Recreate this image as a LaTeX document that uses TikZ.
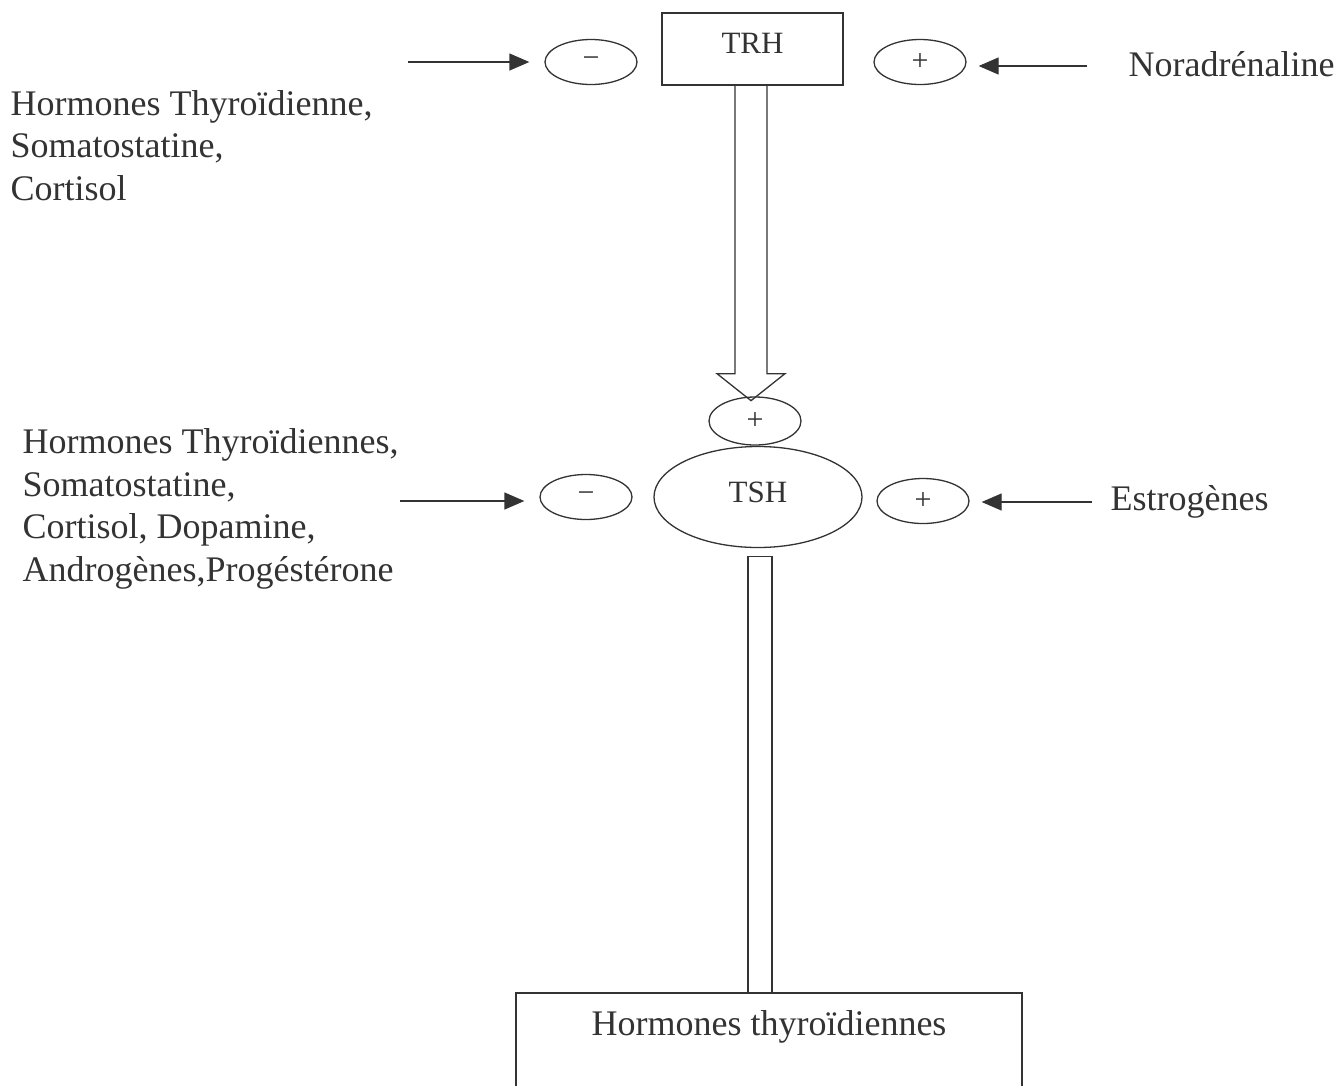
\documentclass[tikz,border=0pt]{standalone}
\usepackage{fontspec}
\setmainfont{Liberation Serif}
\usetikzlibrary{arrows.meta,calc,shapes.geometric}
\definecolor{ink}{HTML}{333333}
\begin{document}
\begin{tikzpicture}[x=1pt,y=-1pt, line width=1.3pt, color=ink,
 big/.style={font=\fontsize{36}{42.5}\selectfont, inner sep=0pt, align=left},
 sm/.style={font=\fontsize{31}{34}\selectfont},
 sign/.style={ellipse, draw, minimum width=92pt, minimum height=45pt, inner sep=0pt, font=\fontsize{30}{30}\selectfont},
 arr/.style={-{Triangle[length=20pt,width=17pt]}},
]
\useasboundingbox (0,0) rectangle (1341,1085);
\clip (0,0) rectangle (1341,1085);

% top level
\node[draw, rectangle, minimum width=181pt, minimum height=72pt, sm, text depth=12pt] (trh) at (752.5,49) {TRH};
\node[sign] (m1) at (591,62) {−};
\node[sign] (p1) at (920,62) {+};
\coordinate (l1) at (408,62);
\coordinate (r1) at (1087,66);
\draw[arr, shorten >=15pt] (l1) -- (m1.west);
\draw[arr, shorten >=12pt] (r1) -- (r1 -| p1.east);
\node[big, anchor=base west] (t1) at (10,200) {Hormones Thyroïdienne,\\Somatostatine,\\Cortisol};
\node[big, anchor=base west] (nor) at (1128,76) {Noradrénaline};

% middle level
\node[sign, minimum height=48pt] (p0) at (755,421) {+};
\node[ellipse, draw, minimum width=208pt, minimum height=101pt, inner sep=0pt, sm, text depth=10pt] (tsh) at (758,497) {TSH};
\node[sign] (m2) at (586,497) {−};
\node[sign] (p2) at (923,501) {+};
\coordinate (l2) at (400,501);
\coordinate (r2) at (1092,502);
\draw[arr, shorten >=15pt] (l2) -- (l2 -| m2.west);
\draw[arr, shorten >=12pt] (r2) -- (r2 -| p2.east);
\node[big, anchor=base west] (t2) at (22,581) {Hormones Thyroïdiennes,\\Somatostatine,\\Cortisol, Dopamine,\\Androgènes,Progéstérone};
\node[big, anchor=base west] (est) at (1110,510) {Estrogènes};

% hollow arrow TRH -> TSH
\draw[line width=1.3pt, line join=miter] ($(trh.south)+(-17.5,0)$) -- ++(0,288) -- ++(-18,0) -- ++(34,27) -- ++(34,-27) -- ++(-18,0) -- ++(0,-288);

% bottom
\node[big] (out) at (769,1027) {Hormones thyroïdiennes};
\coordinate (otop) at (769,993);
\draw (516,1100) |- (1022,993) -- (1022,1100);
\coordinate (b1) at ($(tsh.south)+(-10,8)$);
\coordinate (b2) at ($(tsh.south)+(14,8)$);
\draw (b1 |- otop) -- (b1) -- (b2) -- (b2 |- otop);
\end{tikzpicture}
\end{document}
